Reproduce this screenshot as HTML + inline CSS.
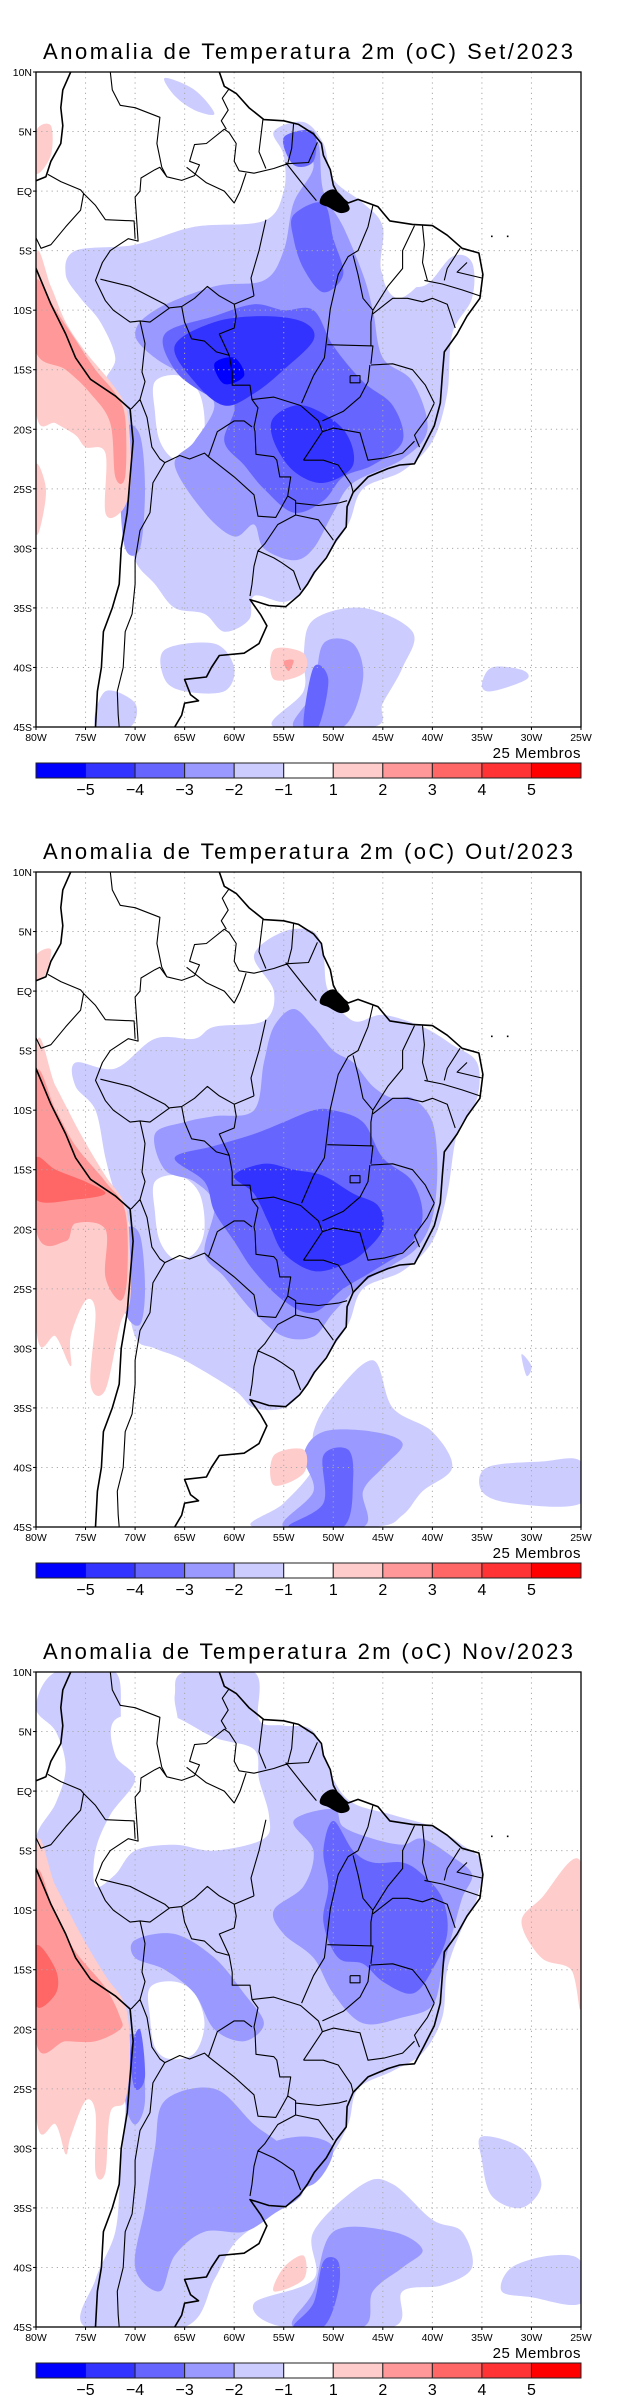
<!DOCTYPE html>
<html><head><meta charset="utf-8">
<style>
html,body{margin:0;padding:0;background:#fff;}
body{width:618px;height:2400px;overflow:hidden;}
svg{display:block;}
text{font-family:"Liberation Sans",sans-serif;}
</style></head>
<body>
<svg id="root" width="618" height="2400" viewBox="0 0 618 2400" xmlns="http://www.w3.org/2000/svg"></svg>
<script>
// ---- data ----
const panelTitles = ["Anomalia de Temperatura 2m (oC) Set/2023","Anomalia de Temperatura 2m (oC) Out/2023","Anomalia de Temperatura 2m (oC) Nov/2023"];
const lonTicks = [-80,-75,-70,-65,-60,-55,-50,-45,-40,-35,-30,-25];
const lonLabels = ["80W","75W","70W","65W","60W","55W","50W","45W","40W","35W","30W","25W"];
const latTicks = [10,5,0,-5,-10,-15,-20,-25,-30,-35,-40,-45];
const latLabels = ["10N","5N","EQ","5S","10S","15S","20S","25S","30S","35S","40S","45S"];
const levelColors = {"-5":"#0000ff","-4":"#3333ff","-3":"#6666ff","-2":"#9999ff","-1":"#ccccff","0":"#ffffff","1":"#ffcccc","2":"#ff9999","3":"#ff6666"};
const cbarColors = ["#0000ff","#3333ff","#6666ff","#9999ff","#ccccff","#ffffff","#ffcccc","#ff9999","#ff6666","#ff3333","#ff0000"];
const cbarLabels = ["\u22125","\u22124","\u22123","\u22122","\u22121","1","2","3","4","5"];

const setShapes = [
 {l:-1,p:[[-76,-5],[-70,-4.5],[-64,-3],[-57,-2.5],[-55,0],[-55,3],[-56,5],[-53,5.8],[-51,4],[-50,1],[-47,-1],[-45,-3],[-45,-7],[-41,-8],[-38,-5.5],[-36,-6],[-36,-9],[-38,-12],[-38.5,-17],[-40,-21],[-43,-23.5],[-47,-25],[-48.5,-28],[-51,-31],[-53,-33.5],[-55,-34.5],[-58,-34],[-58.5,-36],[-61,-37],[-63,-35.5],[-66,-35],[-68,-33],[-70,-31],[-71,-27],[-71,-22],[-72,-18],[-73,-16],[-72,-14],[-73.5,-11],[-75.5,-9],[-77,-7]]},
 {l:-1,p:[[-67,9.5],[-64,8.5],[-62,6.5],[-64,6.8],[-66,8]]},
 {l:0,p:[[-68,-16],[-65.5,-15.5],[-63.5,-17],[-63,-20],[-64,-22],[-66,-22.5],[-67.5,-21],[-68,-18.5]]},
 {l:0,p:[[-44,-3],[-41,-4],[-39.5,-5],[-41,-7.5],[-43.5,-9],[-45,-7]]},
 {l:-2,p:[[-68,-10],[-62,-8],[-57,-7.5],[-55,-5],[-54,-1],[-52,2],[-53,4.5],[-51.5,4],[-51,0],[-49,-3],[-47,-7],[-46,-10],[-45,-14],[-42,-16],[-40.5,-20],[-43,-22.5],[-48,-24.5],[-50,-27],[-52,-30],[-54,-31],[-57,-30],[-58,-28],[-60,-29],[-63,-27],[-66,-23],[-64,-21],[-62,-18],[-64,-16],[-68,-14],[-70,-12]]},
 {l:-2,p:[[-71,-20],[-69.5,-20.5],[-69,-25],[-69.5,-30],[-71,-30],[-71.5,-25]]},
 {l:-3,p:[[-67,-12],[-62,-10.5],[-58,-9.5],[-55,-10],[-52,-10],[-50,-13],[-47,-16],[-44,-18],[-43,-21],[-46,-23],[-49,-24],[-51,-26],[-54,-27],[-57,-25],[-59,-23],[-61,-21],[-60,-18],[-63,-17],[-66,-15]]},
 {l:-3,p:[[-54,-2],[-51,-1],[-50,-4],[-49,-7],[-51,-8.5],[-53,-6.5],[-54,-4]]},
 {l:-3,p:[[-55,4.5],[-52,5],[-52,2.5],[-54,2.2]]},
 {l:-4,p:[[-66,-13],[-62,-11],[-57,-10.5],[-53,-11],[-52,-12.5],[-55,-15],[-58,-17],[-61,-18],[-64,-16]]},
 {l:-4,p:[[-56,-19],[-53,-18],[-49,-20],[-48,-23],[-51,-24.5],[-54,-23.5],[-56,-21]]},
 {l:-5,p:[[-62,-14.5],[-60,-14],[-59,-15.5],[-61,-16.2]]},
 {l:1,p:[[-80,-5.5],[-78.5,-8],[-77,-11],[-75,-13.5],[-72.5,-16],[-71,-18],[-70.5,-21],[-70.5,-25],[-71.5,-27],[-73,-27],[-73,-22],[-75,-21.5],[-76,-20.5],[-78,-19.5],[-80,-18.5]]},
 {l:1,p:[[-80,5],[-78.5,5.5],[-78.5,3],[-80,1.5]]},
 {l:1,p:[[-80,-23],[-79,-25],[-79.5,-28],[-80,-28.5]]},
 {l:2,p:[[-80,-7.5],[-78,-10],[-76,-12.5],[-74,-15],[-72,-17],[-71,-19],[-71,-24],[-72,-24],[-72.5,-19.5],[-74.5,-17],[-77,-15],[-80,-13.5]]},
 {l:-1,p:[[-52,-36],[-47,-35],[-42,-37],[-43,-40],[-45,-43],[-46,-45],[-56,-45],[-53,-42],[-53,-39]]},
 {l:-2,p:[[-51,-38],[-48,-38],[-47,-41],[-49,-45],[-54,-45],[-52,-42]]},
 {l:-3,p:[[-52,-40],[-50.5,-41],[-51.5,-45],[-53,-45]]},
 {l:1,p:[[-56,-38.5],[-53,-38.8],[-53,-40.5],[-56,-41]]},
 {l:2,p:[[-55,-39.5],[-54,-39.4],[-54.5,-40.3]]},
 {l:-1,p:[[-34,-40],[-31,-40.2],[-30.5,-41],[-34,-42],[-35,-41.5]]},
 {l:-1,p:[[-67,-38.5],[-62,-38],[-60,-40],[-61,-42],[-65,-42],[-67,-41]]},
 {l:-1,p:[[-73,-42],[-70,-43],[-70.5,-45],[-74,-45]]}
];
const outShapes = [
 {l:-1,p:[[-76,-6],[-72,-6.5],[-68,-4],[-64,-4],[-62,-3],[-57,-2.5],[-56,0],[-58,3],[-55,5],[-52,5],[-51,3],[-50.5,0],[-48,-2.5],[-45,-2],[-41,-3],[-38,-4.5],[-35.5,-6],[-35.5,-9],[-37.5,-12],[-38.5,-17],[-40,-21],[-43,-23.5],[-47,-25],[-48.5,-28],[-51,-31],[-53,-33.5],[-55,-35],[-58,-35],[-60,-33.5],[-65,-31],[-68,-30],[-70,-29],[-71,-24],[-70.5,-20],[-72,-17],[-73,-14],[-74,-10],[-76,-8]]},
 {l:0,p:[[-68,-16],[-65.5,-15.5],[-63.5,-17],[-63,-20],[-64,-22],[-66,-22.5],[-67.5,-21],[-68,-18.5]]},
 {l:-2,p:[[-68,-12],[-65,-11],[-62,-10.5],[-58,-10],[-57,-6],[-56,-3],[-54,-1.5],[-52,-3],[-50,-5],[-48,-6],[-46,-8],[-44,-9],[-42,-9],[-40,-11],[-39.5,-15],[-40,-19],[-41.5,-21.5],[-44,-23],[-47,-24.5],[-50,-27],[-52,-29],[-55,-29],[-58,-27],[-61,-24],[-63,-22],[-62,-18],[-64,-16],[-67,-15]]},
 {l:-2,p:[[-71,-20],[-69.5,-20.5],[-69,-25],[-69.5,-28],[-71,-27],[-71.5,-23]]},
 {l:-3,p:[[-66,-14],[-62,-13],[-58,-12],[-55,-11],[-52,-10],[-50,-10],[-47,-11],[-45,-14],[-42,-16],[-41,-19],[-42.5,-21.5],[-46,-23.5],[-49,-25],[-52,-27],[-55,-26],[-58,-23.5],[-60,-21],[-62,-18.5],[-63,-16]]},
 {l:-4,p:[[-60,-15.5],[-57,-14.5],[-54,-15],[-51,-15.5],[-48,-17],[-45.5,-18],[-45,-20],[-47,-22],[-49,-23],[-52,-23.5],[-55,-22],[-56.5,-19.5],[-58,-17]]},
 {l:-1,p:[[-50,-34],[-46,-31],[-44,-35],[-40,-37],[-38,-40],[-41,-42],[-43,-44],[-46,-45],[-58,-45],[-55,-43],[-52,-40],[-52,-37]]},
 {l:-2,p:[[-51,-37],[-46,-37],[-43,-38],[-45,-40],[-47,-42],[-47,-45],[-55,-45],[-52,-42],[-53,-39]]},
 {l:-3,p:[[-51,-39],[-48.5,-38.5],[-48,-41],[-49,-45],[-54.5,-45],[-51,-43]]},
 {l:1,p:[[-56,-39],[-53,-38.5],[-53,-40.5],[-56,-41.5]]},
 {l:-1,p:[[-34.5,-40],[-29,-39.5],[-25,-39.5],[-25,-43],[-32,-43],[-35,-42]]},
 {l:-1,p:[[-31,-30.5],[-30,-31.5],[-30.5,-32.3]]},
 {l:1,p:[[-80,-5],[-78,-8],[-75.5,-12],[-73,-15.5],[-71,-18],[-70.5,-22],[-70.5,-26],[-71.5,-28],[-73,-33.5],[-74.5,-33],[-74,-27],[-75,-26],[-76.5,-29],[-76.5,-31.5],[-78,-29],[-80,-28]]},
 {l:1,p:[[-80,3],[-78.5,3.5],[-79,1.5],[-80,1]]},
 {l:2,p:[[-80,-7],[-78,-10],[-76,-13],[-73,-16],[-71,-18.5],[-70.8,-24],[-71.5,-26],[-73,-24],[-73,-20],[-76,-19.5],[-77,-21],[-80,-20]]},
 {l:3,p:[[-80,-14],[-78,-15],[-75,-16],[-73,-17],[-76,-17.5],[-80,-17.5]]}
];
const novShapes = [
 {l:-1,p:[[-80,-4],[-78,-1],[-77,2],[-78,5],[-80,7],[-78,10],[-72,10],[-71,5],[-66,5],[-66,8],[-65,10],[-58,10],[-57.5,6],[-55,5.5],[-52,5],[-50,1],[-48,-1],[-44,-2],[-40,-3],[-37,-4.5],[-35,-6],[-35.5,-9],[-37,-11.5],[-38.5,-15],[-39,-19],[-41,-22],[-44,-23.5],[-47.5,-25],[-48.5,-28],[-50.5,-31],[-53.5,-34],[-57,-36],[-60,-38],[-62,-41],[-65,-45],[-75,-45],[-74,-41],[-72,-37],[-71.5,-32],[-71,-27],[-70.8,-22],[-72,-17.5],[-74,-15],[-77,-11],[-79,-8]]},
 {l:0,p:[[-72,6],[-67,6.5],[-62,4.5],[-58,3.5],[-57.5,1],[-56.5,-2],[-57,-4],[-62,-5],[-66,-4.5],[-70,-5],[-72,-7],[-74,-8],[-74,-5],[-72.5,-2],[-70,1],[-72,3]]},
 {l:0,p:[[-68.5,-16.5],[-66,-16],[-64,-17],[-63,-19.5],[-64,-22],[-66.5,-22.5],[-68,-21.5],[-68.5,-19]]},
 {l:-2,p:[[-70,-12.5],[-66,-12],[-62,-14],[-59,-17],[-57,-19.5],[-59,-21],[-62,-20],[-64,-17],[-67,-15],[-70,-14]]},
 {l:-2,p:[[-67,-26],[-62,-25],[-58,-28],[-55,-30],[-53,-33.5],[-56,-35.5],[-59,-37],[-63,-37],[-66,-39],[-67.5,-42],[-70,-40],[-69,-35],[-68,-30]]},
 {l:-2,p:[[-71,-21],[-69.5,-21],[-69,-26],[-70,-28],[-71,-26]]},
 {l:-2,p:[[-54,-2.5],[-50,-1.5],[-49,-3],[-46,-4],[-43,-4.5],[-41,-4],[-38,-5.5],[-36,-7],[-37,-9],[-38,-12],[-39,-15],[-40,-18],[-43,-19],[-47,-19.5],[-50,-17],[-52,-14],[-55,-12],[-56,-10],[-53,-8],[-52,-5]]},
 {l:-2,p:[[-57,-30],[-53,-29],[-50,-30],[-52,-33],[-56,-33]]},
 {l:-3,p:[[-50,-2.5],[-48,-5],[-46,-6],[-43,-6],[-41,-7],[-39,-9],[-38.5,-12],[-40,-15],[-42,-17],[-45,-16],[-47,-14.5],[-49.5,-14],[-51,-11],[-50.5,-8],[-51,-5]]},
 {l:-3,p:[[-69.5,-20],[-69,-24],[-70,-25],[-70.5,-22]]},
 {l:-1,p:[[-47,-33],[-44,-33],[-40,-36],[-37,-37],[-36,-40],[-39,-41.5],[-43,-42],[-44,-45],[-55,-45],[-58,-43],[-52,-41],[-52,-37]]},
 {l:-2,p:[[-50,-37],[-44,-37],[-41,-38.5],[-43,-40],[-46,-42],[-47,-45],[-54,-45],[-52,-42]]},
 {l:-3,p:[[-51,-39.5],[-49.5,-39.5],[-49.5,-42],[-51,-45],[-54,-45],[-52,-43]]},
 {l:1,p:[[-55,-40],[-53,-39],[-53,-41],[-56,-42]]},
 {l:-1,p:[[-35,-29],[-31,-30],[-29,-33],[-31,-35],[-34,-34],[-35,-31]]},
 {l:-1,p:[[-32,-40],[-28,-39],[-25,-39.5],[-25,-43],[-30,-42.5],[-33,-42]]},
 {l:1,p:[[-25,-6],[-29,-9],[-31,-11],[-29,-14],[-26,-15],[-25,-18]]},
 {l:1,p:[[-80,-5],[-78,-8],[-75.5,-12],[-73,-15.5],[-71,-18],[-70.5,-22],[-71,-26],[-72.5,-27],[-73,-32],[-74,-32],[-74,-27],[-75,-26],[-76.5,-29],[-77,-30.5],[-78,-28],[-80,-27]]},
 {l:2,p:[[-80,-7],[-78,-10.5],[-76,-13.5],[-73,-16.5],[-71.5,-19],[-71.5,-20],[-74,-21],[-77,-21],[-80,-21]]},
 {l:3,p:[[-80,-13],[-78,-15],[-78,-17],[-80,-18]]}
];
const panelShapes = [setShapes,outShapes,novShapes];

const coastPacific = [[-76.5,10],[-77.3,8.5],[-77.5,7],[-77.3,5.5],[-77.5,4],[-78.5,2.5],[-79,1.2],[-80.2,0.8],[-80.5,-1],[-81,-4],[-80.5,-5.5],[-79.5,-7.5],[-78.5,-9.5],[-77,-12],[-76,-14],[-74.5,-15.8],[-72,-17.2],[-70.5,-18.3],[-70.2,-21],[-70.5,-24],[-70.8,-27],[-71.4,-30],[-71.6,-33],[-72.3,-35],[-73.2,-37],[-73.4,-40],[-73.8,-42],[-74,-45]];
const coastAtlantic = [[-61.5,10],[-61,8.8],[-59.8,8.2],[-58.5,7],[-57,6],[-55,5.9],[-53.5,5.6],[-52,4.8],[-51.2,4],[-51,3],[-50.3,1.8],[-50,0.5],[-49.5,-0.3],[-48.5,-1],[-47.5,-0.7],[-45.5,-1.3],[-44.3,-2.5],[-42,-2.8],[-40,-2.9],[-38.5,-3.7],[-37,-4.8],[-35.3,-5.2],[-34.9,-7],[-35.2,-9],[-36.5,-10.5],[-37.5,-12],[-38.8,-13.5],[-39,-15.5],[-39.2,-17.8],[-39.8,-19.7],[-40.9,-21.5],[-41.8,-22.9],[-43.3,-23],[-44.5,-23.3],[-46.5,-24],[-48,-25.3],[-48.6,-26.5],[-48.7,-28.2],[-49.7,-29.3],[-50.7,-30.8],[-51.9,-32],[-52.6,-33],[-53.4,-33.9],[-54.8,-34.9],[-56.5,-34.8],[-58.4,-34.3],[-57.3,-35.6],[-56.7,-36.5],[-57.5,-38],[-59,-38.8],[-61.5,-39],[-62.3,-40],[-62.8,-40.8],[-65,-41],[-64.4,-42.3],[-63.6,-42.8],[-65,-43],[-65.3,-44],[-66,-45]];
const borders = [
 [[-72.5,10],[-72.3,8.5],[-71.5,7.2],[-70,7],[-67.5,6.2],[-67.8,4],[-67.3,2],[-66.8,1.2]],
 [[-60.5,8.6],[-61.2,7.8],[-60.6,6.8],[-61.3,5.9],[-60.8,5.2]],
 [[-57.1,6],[-57.5,3.3],[-56.8,1.9]],
 [[-54,5.7],[-54.2,3.6],[-54.6,2.3]],
 [[-51.6,4.1],[-52.5,2.4],[-54.6,2.3],[-56,1.9],[-58,1.5],[-59.5,1.7],[-60,2.5],[-59.8,4],[-60.5,4.9],[-61,5.2],[-62.8,4],[-64,3.9],[-64.5,2.5],[-63.5,2.2],[-64,1.3],[-65.3,0.9],[-66.8,1.2],[-67.5,2],[-68,1.8],[-69.4,1.1],[-69.5,0],[-70,-0.5],[-69.7,-4.2],[-70.7,-4],[-72.5,-5],[-73.3,-6],[-74,-7.5],[-73,-9.2],[-72.2,-10],[-70.5,-11],[-69.5,-10.9],[-68.5,-11],[-66.5,-9.8],[-65.3,-9.7],[-65,-11],[-64.3,-12.4],[-63,-12.6],[-61.8,-13.5],[-60.5,-13.8],[-60.2,-15.2],[-60.2,-16.3],[-58.4,-16.3],[-58.2,-17.5],[-57.6,-18.2],[-58,-19.8],[-57.9,-20.2],[-57.8,-22.1],[-56,-22.3],[-55.7,-22.6],[-55.4,-24],[-54.3,-24],[-54.6,-25.6],[-53.8,-26],[-53.8,-27.2],[-55.6,-28],[-56.9,-29.6],[-57.6,-30.2],[-56,-30.8],[-55.2,-31.2],[-54,-31.9],[-53.3,-33.5]],
 [[-78.8,1.4],[-77.5,0.8],[-75.5,0.1],[-75.2,-0.2],[-74,-1.2],[-73,-2.4],[-70.1,-2.5],[-70,-4]],
 [[-80.3,-3.4],[-79.5,-4.8],[-78.5,-4.5],[-77,-3],[-75.5,-1.6],[-75.2,-0.2]],
 [[-69.5,-10.9],[-69,-12.8],[-69.3,-15.2],[-69,-16],[-69.5,-17.5],[-70.4,-18.3]],
 [[-69.5,-17.5],[-68.8,-19],[-68.3,-21.5],[-67.5,-22.5],[-67,-22.8],[-65.5,-22.2],[-64.5,-22.5],[-63,-22],[-62.6,-22.3],[-61.7,-20.2],[-60,-19.3],[-59,-19.3],[-58.2,-19.8]],
 [[-62.6,-22.3],[-60,-24],[-58,-25.5],[-57.6,-27.3],[-55.8,-27.4],[-54.6,-25.6]],
 [[-67,-22.8],[-68.2,-24.5],[-68.5,-27],[-69.5,-28.5],[-70,-31],[-70,-33],[-70.3,-35.5],[-71,-37],[-71.2,-40],[-71.8,-42],[-71.7,-44],[-71.6,-45]],
 [[-57.6,-30.2],[-58,-31.5],[-58.2,-33],[-58.4,-34]],
 [[-56.8,-2.4],[-57.5,-5],[-58.3,-7.3],[-58,-8.8]],
 [[-73.5,-7.4],[-70.5,-8],[-67,-9.5],[-66.6,-9.8]],
 [[-65.3,-9.7],[-64,-9],[-62.7,-8],[-61.5,-8.8],[-60,-9.5],[-58,-8.8]],
 [[-60.5,-13.8],[-61.5,-12],[-60,-11.5],[-59.8,-10.5],[-60,-9.5]],
 [[-58.2,-17.5],[-56,-17.3],[-53.3,-18],[-51.5,-19.3],[-51.1,-20.2]],
 [[-50.3,-9.9],[-50.6,-12],[-50.9,-14],[-52,-15.5],[-53.2,-17.8]],
 [[-50.6,-12.9],[-46,-13],[-46.2,-14.5]],
 [[-48,-5.4],[-47.5,-7],[-47,-9],[-46,-10],[-46.2,-11],[-46.2,-13]],
 [[-50.3,-9.9],[-49.5,-7],[-48.5,-5.5],[-47.5,-5],[-46.5,-3],[-46,-1.2]],
 [[-41.8,-2.9],[-43,-5],[-43,-6.5],[-44.5,-8],[-46,-10]],
 [[-41,-2.9],[-40.8,-4.5],[-41,-6],[-40.5,-7.5]],
 [[-37.2,-4.8],[-38.5,-6.5],[-38.8,-7.5]],
 [[-40.8,-7.5],[-39,-7.8],[-37,-8.3],[-35.2,-8.8]],
 [[-36.5,-6],[-37.5,-6.8],[-35,-7.3]],
 [[-46,-10.3],[-44,-9],[-42.5,-9],[-41,-9.3],[-40,-9],[-38.5,-9.5],[-37.7,-11.5]],
 [[-46.2,-14.6],[-44,-14.5],[-42,-15],[-40.7,-16.3],[-39.8,-17.8]],
 [[-39.8,-17.8],[-40.5,-19],[-41.8,-20.5],[-41.3,-21.5]],
 [[-41.8,-21],[-43,-22],[-44.8,-22.4],[-46.5,-22.6],[-47.3,-20.3],[-50,-19.9],[-51.1,-20.2]],
 [[-51.1,-19.3],[-49,-18.5],[-47.3,-17.3],[-46.5,-16],[-46.3,-14.6]],
 [[-53,-22.6],[-51,-22.6],[-49.5,-23],[-48.2,-24.6],[-48,-25.3]],
 [[-51.1,-20.2],[-53,-22.6]],
 [[-53.8,-26.2],[-51.5,-26.4],[-49.5,-26.2],[-48.6,-26]],
 [[-53.8,-27.2],[-51.5,-27.6],[-50,-29.3]],
 [[-54.8,2.4],[-53,0.5],[-51.7,-0.8]],
 [[-64.8,2],[-62.8,0.7],[-61,0],[-60,-1],[-59.4,0],[-58.8,1.5]],
 [[-48.3,-15.5],[-47.3,-15.5],[-47.3,-16.1],[-48.3,-16.1],[-48.3,-15.5]]
];
const marajo = [[-51,-0.3],[-50,0.1],[-49,-0.6],[-48.4,-1.5],[-49.3,-1.8],[-50.5,-1.3],[-51.3,-1]];

// ---- drawing ----
const NS="http://www.w3.org/2000/svg";
const root=document.getElementById('root');
const X0=36,X1=581,Y0=72,Y1=727;
function xs(lon){return X0+(lon+80)/55*(X1-X0);}
function ys(lat,off){return off+Y0+(10-lat)/55*(Y1-Y0);}
function mk(tag,attrs,parent){const e=document.createElementNS(NS,tag);for(const k in attrs)e.setAttribute(k,attrs[k]);(parent||root).appendChild(e);return e;}
function smoothClosed(pts){
 const n=pts.length;let d="M"+pts[0][0].toFixed(1)+","+pts[0][1].toFixed(1);
 for(let i=0;i<n;i++){const p0=pts[(i-1+n)%n],p1=pts[i],p2=pts[(i+1)%n],p3=pts[(i+2)%n];
  const c1=[p1[0]+(p2[0]-p0[0])/6,p1[1]+(p2[1]-p0[1])/6],c2=[p2[0]-(p3[0]-p1[0])/6,p2[1]-(p3[1]-p1[1])/6];
  d+="C"+c1[0].toFixed(1)+","+c1[1].toFixed(1)+" "+c2[0].toFixed(1)+","+c2[1].toFixed(1)+" "+p2[0].toFixed(1)+","+p2[1].toFixed(1);}
 return d+"Z";}
function line(pts){return "M"+pts.map(p=>p[0].toFixed(1)+","+p[1].toFixed(1)).join("L");}

panelTitles.forEach((title,pi)=>{
 const off=pi*800;
 const g=mk('g',{});
 
 
 const t=mk('text',{x:43,y:off+59,'font-size':22,textLength:530,lengthAdjust:'spacing',fill:'#000'},g);
 t.textContent=title;
 
 
 const cp=mk('clipPath',{id:'clip'+pi},g);
 mk('rect',{x:X0,y:off+Y0,width:X1-X0,height:Y1-Y0},cp);
 const plot=mk('g',{'clip-path':'url(#clip'+pi+')'},g);
 
 
 mk('rect',{x:X0,y:off+Y0,width:X1-X0,height:Y1-Y0,fill:'#fff'},plot);
 panelShapes[pi].forEach(s=>{
  const pts=s.p.map(q=>[xs(q[0]),ys(q[1],off)]);
  const e=mk('path',{d:smoothClosed(pts),fill:levelColors[String(s.l)]},plot);
  
  
 });
 lonTicks.slice(1,-1).forEach(lo=>{const e=mk('line',{x1:xs(lo),x2:xs(lo),y1:off+Y0,y2:off+Y1,stroke:'#aaa','stroke-width':1,'stroke-dasharray':'1.2,4'},plot);
  });
 latTicks.slice(1,-1).forEach(la=>{const e=mk('line',{x1:X0,x2:X1,y1:ys(la,off),y2:ys(la,off),stroke:'#aaa','stroke-width':1,'stroke-dasharray':'1.2,4'},plot);
  });
 const bd=mk('path',{d:borders.map(b=>line(b.map(q=>[xs(q[0]),ys(q[1],off)]))).join(""),fill:'none',stroke:'#000','stroke-width':1.1,'stroke-linejoin':'round'},plot);
 
 const cs=mk('path',{d:line(coastPacific.map(q=>[xs(q[0]),ys(q[1],off)]))+line(coastAtlantic.map(q=>[xs(q[0]),ys(q[1],off)])),fill:'none',stroke:'#000','stroke-width':1.6,'stroke-linejoin':'round'},plot);
 
 const mj=mk('path',{d:smoothClosed(marajo.map(q=>[xs(q[0]),ys(q[1],off)])),fill:'#000',stroke:'#000','stroke-width':1},plot);
 
 [[-34,-3.8],[-32.4,-3.8]].forEach(q=>{const e=mk('rect',{x:xs(q[0])-0.8,y:ys(q[1],off)-0.8,width:1.6,height:1.6,fill:'#000'},plot);
  });
 const fr=mk('rect',{x:X0,y:off+Y0,width:X1-X0,height:Y1-Y0,fill:'none',stroke:'#000','stroke-width':1.3},g);
 
 lonTicks.forEach((lo,i)=>{mk('line',{x1:xs(lo),x2:xs(lo),y1:off+Y1,y2:off+Y1+3,stroke:'#000'},g);
  const e=mk('text',{x:xs(lo),y:off+741,'font-size':10.5,'text-anchor':'middle',fill:'#000'},g);e.textContent=lonLabels[i];
  });
 latTicks.forEach((la,i)=>{mk('line',{x1:X0-3,x2:X0,y1:ys(la,off),y2:ys(la,off),stroke:'#000'},g);
  const e=mk('text',{x:X0-4,y:ys(la,off)+4,'font-size':10.5,'text-anchor':'end',fill:'#000'},g);e.textContent=latLabels[i];
  });
 const mem=mk('text',{x:X1,y:off+758,'font-size':15,'text-anchor':'end',fill:'#000','letter-spacing':'0.5'},g);
 mem.textContent="25  Membros";
 
 const cb=mk('g',{},g);
 
 const w=(X1-X0)/cbarColors.length;
 cbarColors.forEach((c,i)=>{const e=mk('rect',{x:X0+i*w,y:off+763,width:w,height:15,fill:c,stroke:'#222','stroke-width':1},cb);
  });
 cbarLabels.forEach((lb,i)=>{const e=mk('text',{x:X0+(i+1)*w,y:off+795,'font-size':16,'text-anchor':'middle',fill:'#000'},cb);e.textContent=lb;
  });
});
</script>
</body></html>
